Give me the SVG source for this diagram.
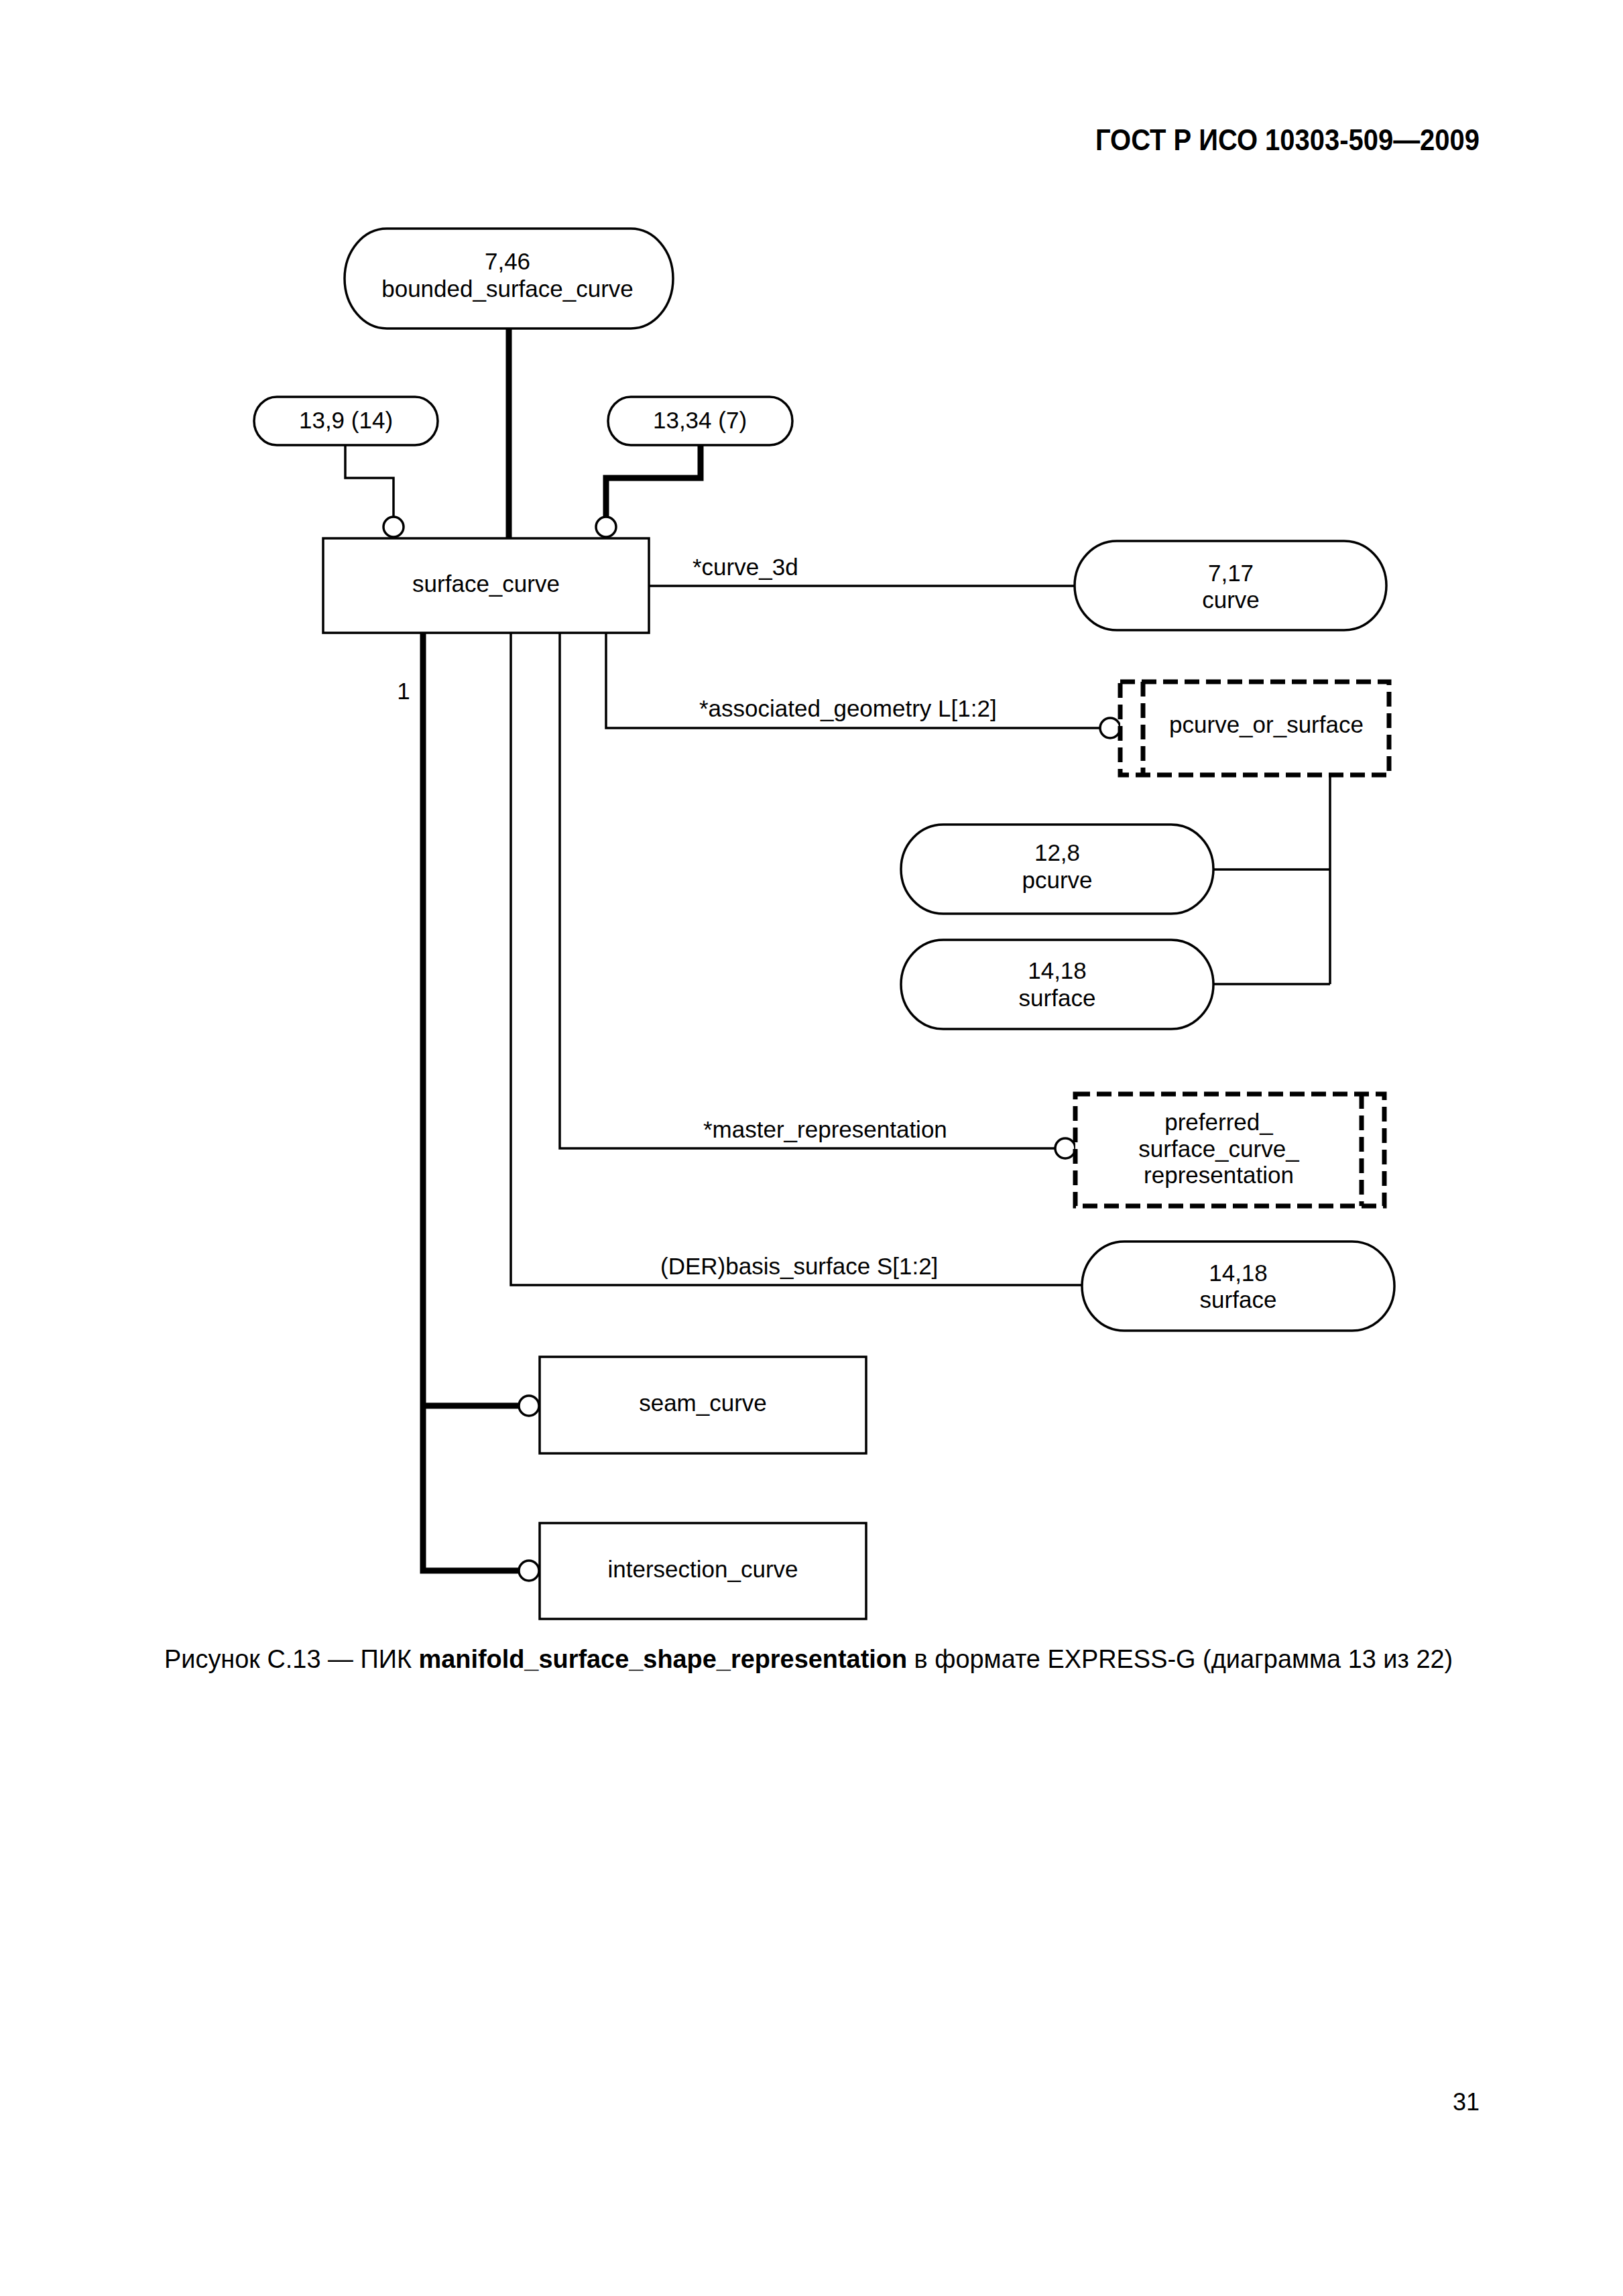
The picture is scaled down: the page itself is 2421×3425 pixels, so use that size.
<svg xmlns="http://www.w3.org/2000/svg" width="2421" height="3425" viewBox="0 0 2421 3425">
<style>
text{font-family:"Liberation Sans",Arial,"Noto Sans",sans-serif;font-size:35px;fill:#000}
.c{text-anchor:middle}
.node{fill:#fff;stroke:#000;stroke-width:3.5}
.dash{fill:#fff;stroke:#000;stroke-width:7;stroke-dasharray:22 10}
.dl{fill:none;stroke:#000;stroke-width:7;stroke-dasharray:22 10}
.ln{fill:none;stroke:#000;stroke-width:3.5;stroke-linejoin:miter}
.thk{fill:none;stroke:#000;stroke-width:9;stroke-linejoin:miter}
.circ{fill:#fff;stroke:#000;stroke-width:3.5}
</style>
<rect width="2421" height="3425" fill="#fff"/>
<text x="2207" y="224" text-anchor="end" font-weight="bold" style="font-size:44px" textLength="573" lengthAdjust="spacingAndGlyphs">ГОСТ Р ИСО 10303-509—2009</text>

<g id="connectors">
<path class="thk" d="M759 490V803"/>
<path class="ln" d="M515 664V713H587V771"/>
<circle class="circ" cx="587" cy="786" r="15"/>
<path class="thk" d="M1045 664V713H904V771"/>
<circle class="circ" cx="904" cy="786" r="15"/>
<path class="ln" d="M968 874H1603"/>
<path class="ln" d="M904 944V1086H1641"/>
<circle class="circ" cx="1656" cy="1086" r="15"/>
<path class="ln" d="M1984 1156V1468M1810 1297H1984M1810 1468H1984"/>
<path class="ln" d="M835 944V1713H1574"/>
<circle class="circ" cx="1589" cy="1713" r="15"/>
<path class="ln" d="M762 944V1917H1614"/>
<path class="thk" d="M631 944V2343H774M631 2097H774"/>
<circle class="circ" cx="789" cy="2097" r="15"/>
<circle class="circ" cx="789" cy="2343" r="15"/>
<text x="1033" y="858">*curve_3d</text>
<text x="1043" y="1069">*associated_geometry L[1:2]</text>
<text x="1049" y="1697">*master_representation</text>
<text x="985" y="1901">(DER)basis_surface S[1:2]</text>
<text x="602" y="1043" class="c">1</text>
</g>

<g id="bounded_surface_curve">
<rect class="node" x="514" y="341" width="490" height="149" rx="63" ry="74.5"/>
<text x="757" y="402" class="c">7,46</text>
<text x="757" y="443" class="c">bounded_surface_curve</text>
</g>
<g id="ref_13_9">
<rect class="node" x="379" y="592" width="274" height="72" rx="34" ry="36"/>
<text x="516" y="639" class="c">13,9 (14)</text>
</g>
<g id="ref_13_34">
<rect class="node" x="907" y="592" width="275" height="72" rx="34" ry="36"/>
<text x="1044" y="639" class="c">13,34 (7)</text>
</g>
<g id="surface_curve">
<rect class="node" x="482" y="803" width="486" height="141"/>
<text x="725" y="883" class="c">surface_curve</text>
</g>
<g id="curve">
<rect class="node" x="1603" y="807" width="465" height="133" rx="63" ry="66.5"/>
<text x="1836" y="867" class="c">7,17</text>
<text x="1836" y="907" class="c">curve</text>
</g>
<g id="pcurve_or_surface">
<rect class="dash" x="1671" y="1017" width="401" height="139"/>
<path class="dl" d="M1705 1017V1156"/>
<text x="1889" y="1093" class="c">pcurve_or_surface</text>
</g>
<g id="pcurve">
<rect class="node" x="1344" y="1230" width="466" height="133" rx="63" ry="66.5"/>
<text x="1577" y="1284" class="c">12,8</text>
<text x="1577" y="1325" class="c">pcurve</text>
</g>
<g id="surface_1">
<rect class="node" x="1344" y="1402" width="466" height="133" rx="63" ry="66.5"/>
<text x="1577" y="1460" class="c">14,18</text>
<text x="1577" y="1501" class="c">surface</text>
</g>
<g id="preferred_surface_curve_representation">
<rect class="dash" x="1604" y="1632" width="461" height="167"/>
<path class="dl" d="M2031 1632V1799"/>
<text x="1818" y="1686" class="c">preferred_</text>
<text x="1818" y="1726" class="c">surface_curve_</text>
<text x="1818" y="1765" class="c">representation</text>
</g>
<g id="surface_2">
<rect class="node" x="1614" y="1852" width="466" height="133" rx="63" ry="66.5"/>
<text x="1847" y="1911" class="c">14,18</text>
<text x="1847" y="1951" class="c">surface</text>
</g>
<g id="seam_curve">
<rect class="node" x="805" y="2024" width="487" height="144"/>
<text x="1048.5" y="2105" class="c">seam_curve</text>
</g>
<g id="intersection_curve">
<rect class="node" x="805" y="2272" width="487" height="143"/>
<text x="1048.5" y="2353" class="c">intersection_curve</text>
</g>

<text x="245" y="2488" style="font-size:37.9px">Рисунок С.13 — ПИК <tspan font-weight="bold">manifold_surface_shape_representation</tspan> в формате EXPRESS-G (диаграмма 13 из 22)</text>
<text x="2207" y="3148" text-anchor="end" style="font-size:36px">31</text>
</svg>
